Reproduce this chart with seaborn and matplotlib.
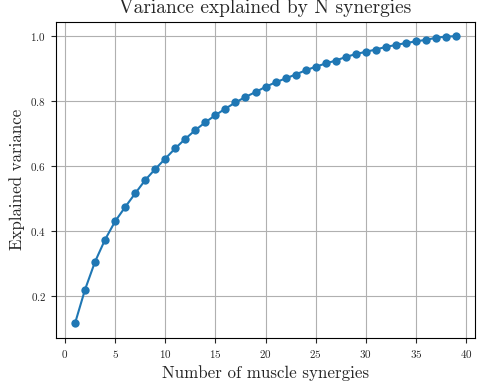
import matplotlib
matplotlib.use("Agg")
import matplotlib.pyplot as plt
import seaborn as sns
import pandas as pd

n_synergies = list(range(1, 40))
explained_variance = [
    0.116, 0.220, 0.306, 0.374, 0.430, 0.474, 0.516, 0.557, 0.591, 0.623,
    0.655, 0.684, 0.711, 0.735, 0.757, 0.777, 0.796, 0.813, 0.828, 0.844,
    0.858, 0.870, 0.882, 0.895, 0.906, 0.916, 0.925, 0.936, 0.945, 0.952,
    0.959, 0.967, 0.973, 0.979, 0.984, 0.989, 0.995, 0.999, 1.000,
]

sns.set_style("ticks")
plt.rcParams["font.family"] = ["cmr10", "DejaVu Serif"]
plt.rcParams["mathtext.fontset"] = "cm"
plt.rcParams["axes.formatter.use_mathtext"] = True

df = pd.DataFrame({"n": n_synergies, "var": explained_variance})

fig, ax = plt.subplots(figsize=(4.78, 3.83), dpi=100)
sns.lineplot(data=df, x="n", y="var", marker="o", markersize=6,
             markeredgewidth=0, color="#1f77b4", linewidth=1.5, ax=ax)
ax.grid(True, color="#b0b0b0", linewidth=0.8)
ax.set_xticks(range(0, 41, 5))
ax.set_yticks([0.2, 0.4, 0.6, 0.8, 1.0])
ax.tick_params(labelsize=8)
for s in ax.spines.values():
    s.set_color("black")
    s.set_linewidth(0.8)
ax.set_xlabel("Number of muscle synergies", fontsize=12.2)
ax.set_ylabel("Explained variance", fontsize=12.2)
ax.set_title("Variance explained by N synergies", fontsize=14)
fig.subplots_adjust(left=0.117, right=0.994, top=0.943, bottom=0.118)
fig.savefig("out.png", dpi=100)
